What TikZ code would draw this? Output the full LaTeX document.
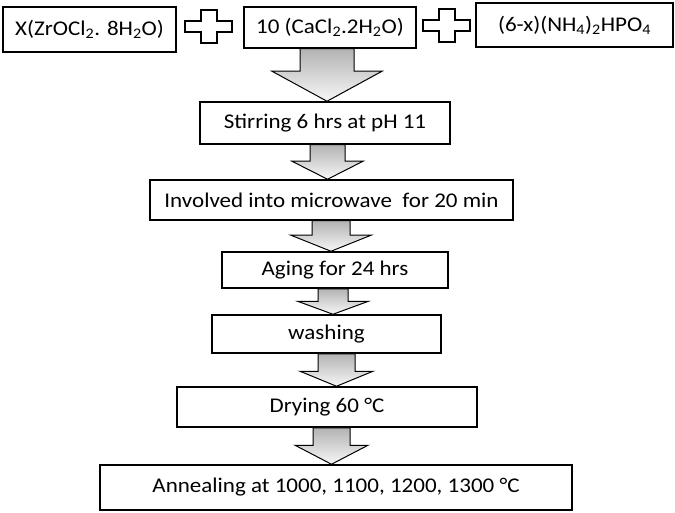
\documentclass[tikz,border=0pt]{standalone}
\usepackage{fontspec}
\setmainfont{Carlito}[FakeStretch=1.1]
\usetikzlibrary{calc}
\tikzset{
  box/.style={draw=black, line width=1.5bp, fill=white, inner sep=0pt, align=center,
    font=\fontsize{21}{24}\selectfont},
  barrow/.style={draw=black, line width=1bp, top color=black!30, bottom color=black!3},
  plussty/.style={draw=black, line width=2bp, fill=white},
}
\newcommand\blockarrow[6]{%
  \path[barrow] let \p1=(#1.south), \p2=(#2.north) in
    ({(#3-#4)*1bp},\y1) -- ({(#3-#4)*1bp},\y2+#6bp) -- ({(#3-#5)*1bp},\y2+#6bp)
    -- ({#3*1bp},\y2) -- ({(#3+#5)*1bp},\y2+#6bp) -- ({(#3+#4)*1bp},\y2+#6bp)
    -- ({(#3+#4)*1bp},\y1) -- cycle;}
\newcommand\plussign[2]{%
  \path[plussty] (#1-8,#2-16.5) -- (#1+8,#2-16.5) -- (#1+8,#2-5.5) -- (#1+23.5,#2-5.5)
    -- (#1+23.5,#2+5.5) -- (#1+8,#2+5.5) -- (#1+8,#2+16.5) -- (#1-8,#2+16.5)
    -- (#1-8,#2+5.5) -- (#1-23.5,#2+5.5) -- (#1-23.5,#2-5.5) -- (#1-8,#2-5.5) -- cycle;}
\begin{document}
\begin{tikzpicture}[x=1bp,y=-1bp]
\useasboundingbox (0,0) rectangle (675,513);
\fill[white] (0,0) rectangle (675,513);
\node[box, minimum width=173bp, minimum height=45bp] (zr) at (89.5,29.5) {X(ZrOCl\textsubscript{2}. 8H\textsubscript{2}O)};
\node[box, minimum width=172bp, minimum height=41bp] (ca) at (330,27.5) {10 (CaCl\textsubscript{2}.2H\textsubscript{2}O)};
\node[box, minimum width=197bp, minimum height=44bp] (nh) at (574.5,25) {(6-x)(NH\textsubscript{4})\textsubscript{2}HPO\textsubscript{4}};
\plussign{208.5}{27}
\plussign{446.5}{26}
\node[box, minimum width=250bp, minimum height=42bp] (stir) at (325,123) {Stirring 6 hrs at pH 11};
\node[box, minimum width=363bp, minimum height=40bp] (micro) at (331.5,200) {Involved into microwave \ for 20 min};
\node[box, minimum width=226bp, minimum height=36bp] (aging) at (335,270) {Aging for 24 hrs};
\node[box, minimum width=229bp, minimum height=38bp] (wash) at (326.5,334) {washing};
\node[box, minimum width=300bp, minimum height=40bp] (dry) at (327,407) {Drying 60 °C};
\node[box, minimum width=472bp, minimum height=45bp] (anneal) at (336,487.5) {Annealing at 1000, 1100, 1200, 1300 °C};
\blockarrow{ca}{stir}{327}{27}{55}{30}
\blockarrow{stir}{micro}{327.5}{17.5}{35.5}{18}
\blockarrow{micro}{aging}{331}{19}{40}{16}
\blockarrow{aging}{wash}{333}{15}{35.5}{13}
\blockarrow{wash}{dry}{336.5}{18.5}{36.5}{15}
\blockarrow{dry}{anneal}{331.5}{18.5}{36.5}{19}
\end{tikzpicture}
\end{document}
